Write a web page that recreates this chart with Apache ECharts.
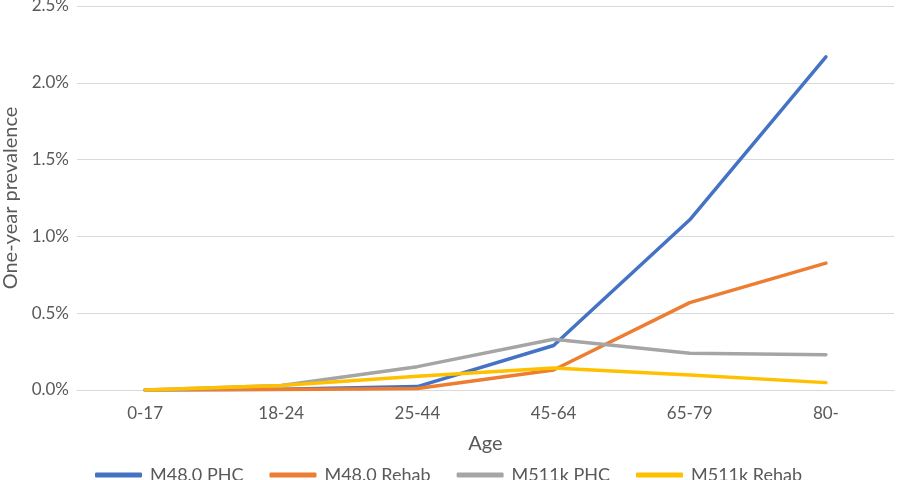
<!DOCTYPE html>
<html><head><meta charset="utf-8">
<script src="https://cdn.jsdelivr.net/npm/echarts@6/dist/echarts.min.js"></script>
<style>html,body{margin:0;padding:0;background:#fff}#c{width:897px;height:480px}</style>
</head><body><div id="c"></div>
<script>
const categories = ['0-17','18-24','25-44','45-64','65-79','80-'];
const m480PHC   = [0.000, 0.005, 0.022, 0.290, 1.108, 2.169];
const m480Rehab = [0.000, 0.003, 0.010, 0.130, 0.569, 0.826];
const m511kPHC  = [0.000, 0.030, 0.152, 0.330, 0.240, 0.229];
const m511kRehab= [0.000, 0.030, 0.090, 0.143, 0.098, 0.048];
const seriesNames = ['M48.0 PHC','M48.0 Rehab','M511k PHC','M511k Rehab'];
const colors = ['#4472C4','#ED7D31','#A5A5A5','#FFC000'];
const font = 'Lato';
const chart = echarts.init(document.getElementById('c'));
const data = [m480PHC, m480Rehab, m511kPHC, m511kRehab];
chart.setOption({
  animation:false,
  textStyle:{fontFamily:font},
  color:colors,
  grid:{left:77,right:3,top:6,bottom:90,containLabel:false,outerBoundsMode:'none'},
  legend:{
    left:90, top:461, itemWidth:47, itemHeight:5, itemGap:26,
    icon:'roundRect',
    textStyle:{fontFamily:font,fontSize:18,color:'#595959',padding:[0,0,0,3]},
    data:seriesNames
  },
  xAxis:{
    type:'category', data:categories, boundaryGap:true,
    name:'Age', nameLocation:'middle', nameGap:44,
    nameTextStyle:{fontSize:20,color:'#595959',fontFamily:font},
    axisLine:{lineStyle:{color:'#d9d9d9',width:1}},
    axisTick:{show:false},
    axisLabel:{fontSize:17,color:'#595959',margin:15,fontFamily:font}
  },
  yAxis:{
    type:'value', min:0, max:2.5, interval:0.5,
    name:'One-year prevalence', nameLocation:'middle', nameGap:55,
    nameTextStyle:{fontSize:20,color:'#595959',fontFamily:font},
    axisLine:{show:false}, axisTick:{show:false},
    splitLine:{lineStyle:{color:'#d9d9d9',width:1}},
    axisLabel:{fontSize:17,color:'#595959',margin:8,fontFamily:font,
      formatter:v=>v.toFixed(1)+'%'}
  },
  series:seriesNames.map((n,i)=>({
    name:n, type:'line', data:data[i], symbol:'none',
    lineStyle:{width:3.5,color:colors[i],cap:'round',join:'round'},
    itemStyle:{color:colors[i]}
  }))
});
</script></body></html>
